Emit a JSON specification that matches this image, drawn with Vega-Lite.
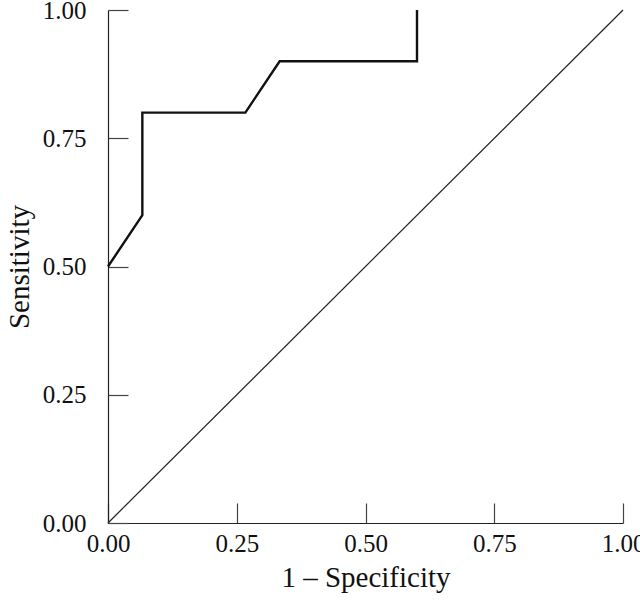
{
  "$schema": "https://vega.github.io/schema/vega-lite/v6.json",
  "width": 515,
  "height": 513,
  "autosize": {"type": "none"},
  "padding": {"left": 108, "top": 10, "right": 17, "bottom": 78},
  "background": "white",
  "config": {
    "view": {"stroke": null},
    "font": "Liberation Serif",
    "axis": {
      "grid": false,
      "domainColor": "#222",
      "tickColor": "#444",
      "domainWidth": 1.2,
      "tickWidth": 1.2,
      "labelFont": "Liberation Serif",
      "titleFont": "Liberation Serif",
      "labelFontSize": 25,
      "titleFontSize": 29,
      "titleFontWeight": "normal",
      "labelColor": "#111",
      "titleColor": "#111"
    }
  },
  "datasets": {
    "roc": [
      {"fpr": 0.0, "tpr": 0.5},
      {"fpr": 0.0667, "tpr": 0.6},
      {"fpr": 0.0667, "tpr": 0.8},
      {"fpr": 0.2667, "tpr": 0.8},
      {"fpr": 0.3333, "tpr": 0.9},
      {"fpr": 0.6, "tpr": 0.9},
      {"fpr": 0.6, "tpr": 1.0}
    ],
    "diag": [
      {"fpr": 0.0, "tpr": 0.0},
      {"fpr": 1.0, "tpr": 1.0}
    ]
  },
  "layer": [
    {
      "data": {"name": "diag"},
      "mark": {"type": "line", "color": "#222", "strokeWidth": 1.2},
      "encoding": {
        "x": {"field": "fpr", "type": "quantitative", "scale": {"domain": [0, 1], "nice": false},
          "axis": {"title": "1 – Specificity", "values": [0, 0.25, 0.5, 0.75, 1], "format": ".2f", "tickSize": -20, "labelPadding": 28, "titlePadding": 7, "labelFlush": false}},
        "y": {"field": "tpr", "type": "quantitative", "scale": {"domain": [0, 1], "nice": false},
          "axis": {"title": "Sensitivity", "values": [0, 0.25, 0.5, 0.75, 1], "format": ".2f", "tickSize": -20, "labelPadding": 42, "titlePadding": 8, "labelFlush": false}},
        "order": {"field": "fpr", "type": "quantitative"}
      }
    },
    {
      "data": {"name": "roc"},
      "mark": {"type": "line", "color": "#111", "strokeWidth": 2.4},
      "encoding": {
        "x": {"field": "fpr", "type": "quantitative"},
        "y": {"field": "tpr", "type": "quantitative"},
        "order": {"field": "tpr", "type": "quantitative"}
      }
    }
  ]
}
